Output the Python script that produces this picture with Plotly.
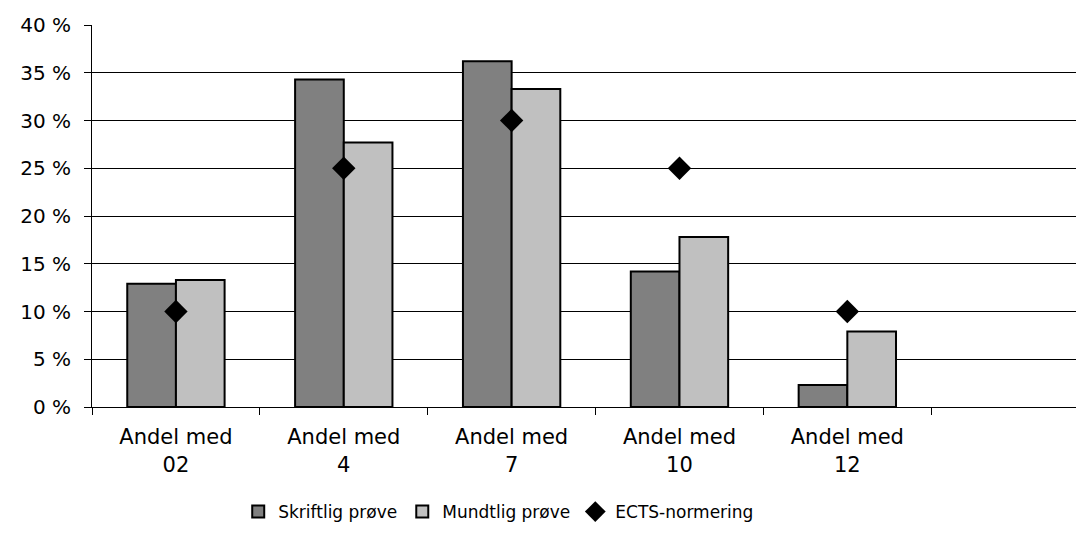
import plotly.graph_objects as go

categories = ["Andel med<br>02", "Andel med<br>4", "Andel med<br>7", "Andel med<br>10", "Andel med<br>12"]
skriftlig = [12.9, 34.3, 36.2, 14.2, 2.3]
mundtlig = [13.3, 27.7, 33.3, 17.8, 7.9]
ects = [10, 25, 30, 25, 10]
y_ticks = [0, 5, 10, 15, 20, 25, 30, 35, 40]
y_tick_labels = [f"{v} %" for v in y_ticks]

FONT = "DejaVu Sans, Liberation Sans, Arial, sans-serif"

fig = go.Figure()
fig.add_trace(go.Bar(
    x=categories, y=skriftlig, name="Skriftlig prøve",
    marker=dict(color="#808080", line=dict(color="black", width=2)),
))
fig.add_trace(go.Bar(
    x=categories, y=mundtlig, name="Mundtlig prøve",
    marker=dict(color="#C0C0C0", line=dict(color="black", width=2)),
))
fig.add_trace(go.Scatter(
    x=categories, y=ects, name="ECTS-normering", mode="markers",
    marker=dict(symbol="diamond", size=18, color="black"),
))

# page body has an 8px default margin; figure sized to fill the rest of the window
fig.update_layout(
    width=1076, height=530,
    margin=dict(l=84, r=0, t=17, b=131),
    paper_bgcolor="white", plot_bgcolor="white",
    barmode="group", bargap=0.42, bargroupgap=0,
    font=dict(family=FONT, size=19, color="black"),
    showlegend=True,
    legend=dict(orientation="h", x=0.41, xanchor="center", y=-0.275, yanchor="middle",
                font=dict(size=17), itemwidth=30, traceorder="normal"),
    xaxis=dict(
        type="category", range=[-0.5, 5.41], automargin=False,
        showline=True, linecolor="black", linewidth=1,
        ticks="outside", ticklen=7, tickcolor="black", tickson="boundaries",
        showgrid=False, tickfont=dict(size=21), ticklabelstandoff=11,
    ),
    yaxis=dict(
        range=[0, 40], tickvals=y_ticks, ticktext=y_tick_labels, automargin=False,
        showline=True, linecolor="black", linewidth=1,
        ticks="outside", ticklen=7, tickcolor="black",
        showgrid=True, gridcolor="black", gridwidth=1,
        zeroline=False, tickfont=dict(size=20), ticklabelstandoff=9,
    ),
)

fig.write_html("out.html")
